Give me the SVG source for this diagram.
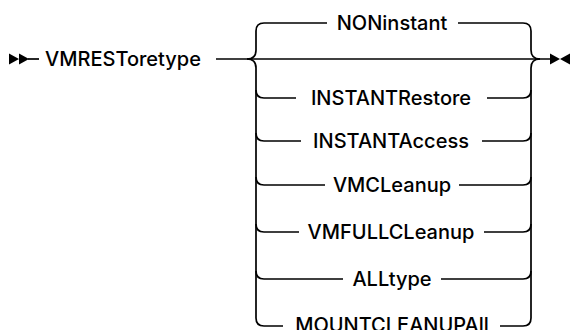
<svg xmlns="http://www.w3.org/2000/svg" width="570" height="330" viewBox="0 0 570 330">
<style>
.ln{fill:none;stroke:#000;stroke-width:1.7;stroke-linecap:butt;stroke-linejoin:round}
.mk{fill:#000;stroke:none}
text{font-family:Inter,"Liberation Sans",sans-serif;font-weight:500;font-size:20px;fill:#000;text-anchor:middle}
</style>
<rect width="570" height="330" fill="#fff"/>
<g id="start">
<path class="mk" d="M9,53.5 L19,59 L9,64.5 Z M19,53.5 L29,59 L19,64.5 Z"/>
<path class="ln" d="M28,59 H39"/>
</g>
<g id="keyword"><text x="123" y="66" font-size="19.5">VMRESToretype</text></g>
<g id="connectors">
<path class="ln" d="M216,59 H550"/>
<path class="ln" d="M247,59 Q256,59 256,50 V31 Q256,23 264,23 H327"/>
<path class="ln" d="M247,59 Q256,59 256,68 V318 Q256,326 264,326 H283"/>
<path class="ln" d="M256,90 Q256,98 264,98 H296"/>
<path class="ln" d="M256,133 Q256,141 264,141 H301"/>
<path class="ln" d="M256,177 Q256,185 264,185 H325"/>
<path class="ln" d="M256,224 Q256,232 264,232 H299"/>
<path class="ln" d="M256,271 Q256,279 264,279 H343"/>
<path class="ln" d="M458,23 H523 Q531,23 531,31 V50 Q531,59 540,59"/>
<path class="ln" d="M540,59 Q531,59 531,68 V318 Q531,326 523,326 H500"/>
<path class="ln" d="M487,98 H523 Q531,98 531,90"/>
<path class="ln" d="M482,141 H523 Q531,141 531,133"/>
<path class="ln" d="M459,185 H523 Q531,185 531,177"/>
<path class="ln" d="M484,232 H523 Q531,232 531,224"/>
<path class="ln" d="M441,279 H523 Q531,279 531,271"/>
</g>
<g id="end"><path class="mk" d="M550,53.5 L560,59 L550,64.5 Z M570,53.5 L560,59 L570,64.5 Z"/></g>
<g id="opt-noninstant"><text x="392" y="30">NONinstant</text></g>
<g id="opt-instantrestore"><text x="391" y="105">INSTANTRestore</text></g>
<g id="opt-instantaccess"><text x="391" y="148">INSTANTAccess</text></g>
<g id="opt-vmcleanup"><text x="392" y="192">VMCLeanup</text></g>
<g id="opt-vmfullcleanup"><text x="391" y="239">VMFULLCLeanup</text></g>
<g id="opt-alltype"><text x="392" y="286">ALLtype</text></g>
<g id="opt-mountcleanupall"><text x="392" y="332">MOUNTCLEANUPAll</text></g>
</svg>
